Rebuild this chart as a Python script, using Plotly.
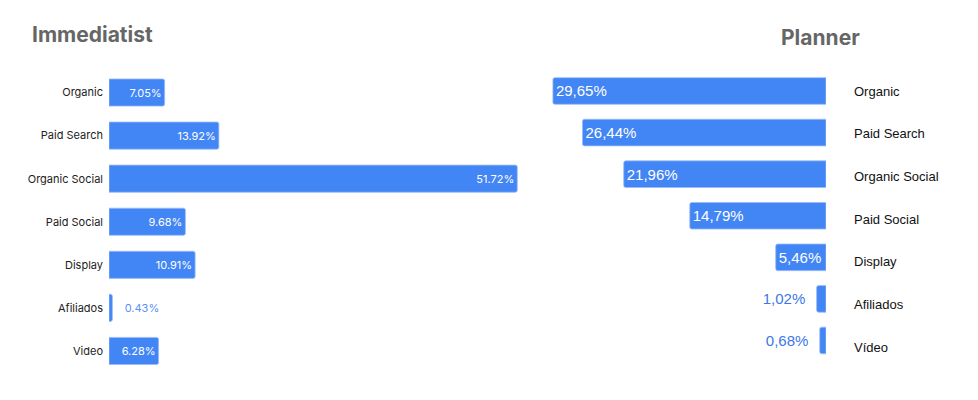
import plotly.graph_objects as go

channels_left = ["Organic", "Paid Search", "Organic Social", "Paid Social", "Display", "Afiliados", "Video"]
immediatist = [7.05, 13.92, 51.72, 9.68, 10.91, 0.43, 6.28]

channels_right = ["Organic", "Paid Search", "Organic Social", "Paid Social", "Display", "Afiliados", "Vídeo"]
planner = [29.65, 26.44, 21.96, 14.79, 5.46, 1.02, 0.68]

BLUE = "#4285F4"
NBSP = "\u00a0"

# page has an 8px body margin, so the figure starts at (8, 8)
W, H, OFF = 970, 392, 8


def px_x(p):
    return (p - OFF) / W


def px_y(p):
    return 1 - (p - OFF) / H


# small bars get their label outside, with a bit of extra gap
left_pos = ["inside" if v > 3 else "outside" for v in immediatist]
right_pos = ["inside" if v > 3 else "outside" for v in planner]
left_text = [f"{v:.2f}%" if p == "inside" else NBSP * 3 + f"{v:.2f}%"
             for v, p in zip(immediatist, left_pos)]
right_text = [f"{v:.2f}%".replace(".", ",") + ("" if p == "inside" else NBSP * 2)
              for v, p in zip(planner, right_pos)]

fig = go.Figure()

# left panel: Immediatist
fig.add_trace(go.Bar(
    x=immediatist, y=channels_left, orientation="h",
    xaxis="x", yaxis="y",
    marker=dict(color=BLUE, line=dict(color="#9cbdf8", width=0.8), cornerradius=2),
    width=0.63,
    text=left_text,
    textposition=left_pos,
    insidetextanchor="end",
    insidetextfont=dict(color="white", size=11, family="Inter"),
    outsidetextfont=dict(color="#5b8ff5", size=11, family="Inter"),
    cliponaxis=False,
    hoverinfo="skip",
))

# right panel: Planner (bars grow to the left)
fig.add_trace(go.Bar(
    x=planner, y=channels_right, orientation="h",
    xaxis="x2", yaxis="y2",
    marker=dict(color=BLUE, line=dict(color="#9cbdf8", width=0.8), cornerradius=2),
    width=0.64,
    text=right_text,
    textposition=right_pos,
    insidetextanchor="end",
    insidetextfont=dict(color="white", size=15, family="Liberation Sans"),
    outsidetextfont=dict(color="#3b78e7", size=15, family="Liberation Sans"),
    cliponaxis=False,
    hoverinfo="skip",
))

# invisible trace that carries the right-hand category labels
fig.add_trace(go.Scatter(
    x=[0] * len(channels_right), y=channels_right,
    xaxis="x2", yaxis="y3", mode="markers",
    marker=dict(opacity=0), hoverinfo="skip", showlegend=False,
))

fig.update_layout(
    width=W, height=H,
    margin=dict(l=0, r=0, t=0, b=0),
    paper_bgcolor="white", plot_bgcolor="rgba(0,0,0,0)",
    showlegend=False,
    xaxis=dict(domain=[px_x(109), px_x(540)], range=[0, 54.6], visible=False, fixedrange=True),
    yaxis=dict(domain=[px_y(372.5), px_y(71)], type="category", categoryorder="array",
               categoryarray=channels_left, range=[6.5, -0.5], anchor="x",
               showgrid=False, zeroline=False, showline=False, ticks="",
               ticklabelstandoff=5,
               tickfont=dict(family="Inter", size=11, color="#222222")),
    xaxis2=dict(domain=[px_x(540), px_x(826)], range=[31.05, 0], visible=False,
                anchor="y2", fixedrange=True),
    yaxis2=dict(domain=[px_y(361.3), px_y(70.2)], type="category", categoryorder="array",
                categoryarray=channels_right, range=[6.5, -0.5], anchor="x2",
                showticklabels=False, showgrid=False, zeroline=False, showline=False),
    yaxis3=dict(domain=[px_y(368.5), px_y(69.7)], type="category", categoryorder="array",
                categoryarray=channels_right, range=[6.5, -0.5], anchor="x2", side="right",
                showgrid=False, zeroline=False, showline=False, ticks="",
                ticklabelstandoff=27,
                tickfont=dict(family="Liberation Sans", size=13, color="#111111")),
    annotations=[
        dict(text="<b>Immediatist</b>", x=px_x(30), y=px_y(35), xref="paper", yref="paper",
             xanchor="left", yanchor="middle", showarrow=False,
             font=dict(family="Inter", size=21, color="#666666")),
        dict(text="<b>Planner</b>", x=px_x(820), y=px_y(37), xref="paper", yref="paper",
             xanchor="center", yanchor="middle", showarrow=False,
             font=dict(family="Inter", size=21, color="#666666")),
    ],
)

fig.write_html("out.html")
